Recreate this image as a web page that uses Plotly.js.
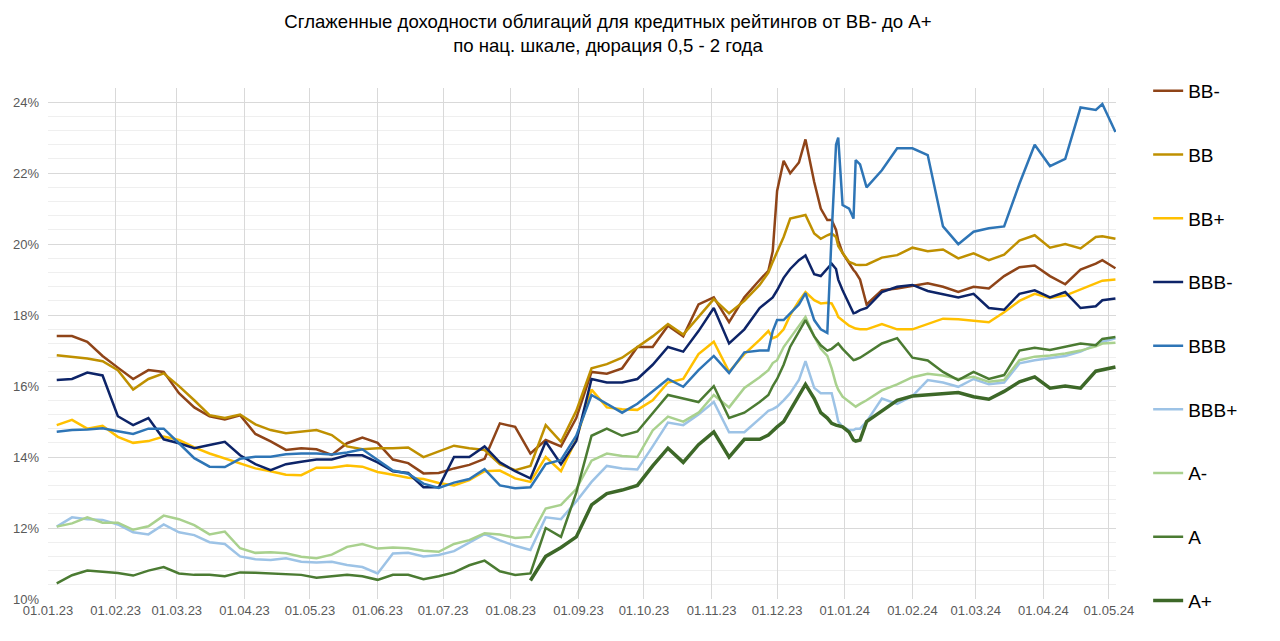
<!DOCTYPE html>
<html>
<head>
<meta charset="utf-8">
<script src="https://cdn.plot.ly/plotly-3.0.1.min.js"></script>
<style>html,body{margin:0;padding:0;background:#fff;}#chart{width:1280px;height:641px;}</style>
</head>
<body>
<div id="chart"></div>
<script>
const dates = ['2023-01-05','2023-01-12','2023-01-19','2023-01-26','2023-02-02','2023-02-09','2023-02-16','2023-02-23',
'2023-03-02','2023-03-09','2023-03-16','2023-03-23','2023-03-30','2023-04-06','2023-04-13','2023-04-20','2023-04-27',
'2023-05-04','2023-05-11','2023-05-18','2023-05-25','2023-06-01','2023-06-08','2023-06-15','2023-06-22','2023-06-29',
'2023-07-06','2023-07-13','2023-07-20','2023-07-27','2023-08-03','2023-08-10','2023-08-17','2023-08-24','2023-08-31',
'2023-09-07','2023-09-14','2023-09-21','2023-09-28','2023-10-05','2023-10-12','2023-10-19','2023-10-26','2023-11-02',
'2023-11-09','2023-11-16','2023-11-23','2023-11-27','2023-11-29','2023-12-01','2023-12-04','2023-12-07','2023-12-11',
'2023-12-14','2023-12-18','2023-12-21','2023-12-24','2023-12-26','2023-12-28','2023-12-29','2023-12-31','2024-01-03',
'2024-01-05','2024-01-06','2024-01-08','2024-01-11','2024-01-18','2024-01-25','2024-02-01','2024-02-08','2024-02-15',
'2024-02-22','2024-02-29','2024-03-07','2024-03-14','2024-03-21','2024-03-28','2024-04-04','2024-04-11','2024-04-18',
'2024-04-25','2024-04-28','2024-05-04'];

const seriesNames = ['BB-','BB','BB+','BBB-','BBB','BBB+','A-','A','A+'];

const bbMinus = [17.41,17.41,17.25,16.85,16.52,16.2,16.45,16.4,15.8,15.4,15.15,15.06,15.18,14.65,14.44,14.2,14.25,
14.22,14.06,14.39,14.55,14.4,13.93,13.83,13.54,13.55,13.68,13.78,13.95,14.95,14.85,14.1,14.48,14.3,15.1,
16.4,16.35,16.5,17.1,17.1,17.7,17.4,18.3,18.5,17.8,18.5,18.99,19.25,19.8,21.5,22.35,22.0,22.3,
22.95,21.75,21.0,20.68,20.68,20.4,20.1,19.75,19.45,19.27,19.2,19.0,18.3,18.7,18.75,18.82,18.9,18.8,
18.65,18.8,18.75,19.1,19.35,19.4,19.1,18.87,19.28,19.45,19.55,19.32];

const bb = [16.87,16.83,16.78,16.7,16.45,15.9,16.2,16.36,16.0,15.6,15.18,15.1,15.2,14.92,14.76,14.67,14.72,
14.76,14.62,14.3,14.22,14.25,14.25,14.27,14.0,14.15,14.32,14.25,14.2,13.8,13.63,13.75,14.9,14.43,15.3,
16.5,16.62,16.8,17.1,17.4,17.75,17.45,17.95,18.45,18.05,18.4,18.85,19.2,19.5,19.8,20.2,20.72,20.78,
20.82,20.3,20.15,20.25,20.3,20.2,19.95,19.75,19.5,19.45,19.42,19.41,19.42,19.62,19.69,19.9,19.8,19.85,
19.6,19.74,19.55,19.7,20.1,20.25,19.9,20.0,19.88,20.2,20.22,20.15];

const bbPlus = [14.9,15.05,14.8,14.88,14.57,14.4,14.45,14.58,14.48,14.27,14.1,13.96,13.8,13.68,13.6,13.5,13.49,
13.7,13.7,13.76,13.73,13.58,13.5,13.42,13.38,13.27,13.2,13.35,13.6,13.62,13.4,13.3,14.0,13.6,14.5,
15.9,15.4,15.35,15.33,15.6,16.1,16.2,16.9,17.25,16.4,16.9,17.3,17.55,17.35,17.4,17.6,18.0,18.4,
18.65,18.42,18.33,18.35,18.33,18.1,17.95,17.85,17.7,17.65,17.62,17.6,17.6,17.75,17.6,17.6,17.75,17.9,
17.88,17.85,17.8,18.08,18.4,18.6,18.48,18.55,18.72,18.88,18.97,19.0];

const bbbMinus = [16.17,16.2,16.38,16.3,15.15,14.9,15.1,14.5,14.39,14.25,14.34,14.43,14.05,13.8,13.63,13.8,13.87,
13.93,13.93,14.05,14.05,13.85,13.6,13.55,13.15,13.15,14.0,14.0,14.3,13.85,13.6,13.4,14.43,13.8,14.45,
16.2,16.1,16.1,16.2,16.6,17.1,16.97,17.55,18.2,17.2,17.6,18.2,18.4,18.5,18.7,19.05,19.3,19.55,
19.68,19.15,19.1,19.3,19.45,19.3,19.0,18.7,18.3,18.05,18.07,18.14,18.2,18.65,18.8,18.85,18.68,18.6,
18.5,18.6,18.2,18.15,18.6,18.7,18.5,18.65,18.2,18.25,18.42,18.47];

const bbb = [14.71,14.76,14.78,14.81,14.73,14.65,14.8,14.8,14.39,13.97,13.73,13.72,13.95,14.01,14.01,14.08,14.1,
14.1,14.07,14.13,14.22,13.93,13.62,13.53,13.25,13.13,13.28,13.38,13.66,13.2,13.12,13.15,13.8,13.92,14.6,
15.75,15.5,15.25,15.5,15.85,16.2,15.98,16.45,16.85,16.37,16.95,17.0,17.0,17.55,17.86,17.86,18.05,18.3,
18.62,17.86,17.6,17.5,20.3,22.8,23.0,21.1,21.0,20.72,22.37,22.25,21.6,22.08,22.7,22.7,22.51,20.5,
20.0,20.35,20.45,20.5,21.7,22.8,22.2,22.4,23.85,23.78,23.95,23.16];

const bbbPlus = [12.04,12.3,12.25,12.23,12.1,11.88,11.82,12.1,11.88,11.8,11.6,11.55,11.2,11.12,11.1,11.15,11.05,
11.03,11.05,10.96,10.9,10.72,11.28,11.3,11.2,11.24,11.35,11.6,11.83,11.65,11.5,11.38,12.3,12.25,12.75,
13.3,13.75,13.68,13.65,14.3,14.97,14.9,15.2,15.55,14.7,14.7,15.1,15.3,15.35,15.42,15.6,15.8,16.17,
16.7,15.95,15.8,15.8,15.8,15.3,15.0,14.85,14.76,14.76,14.8,14.8,15.0,15.65,15.5,15.72,16.17,16.1,
15.98,16.2,16.05,16.1,16.64,16.73,16.8,16.85,16.97,17.15,17.25,17.35];

const aMinus = [12.04,12.13,12.3,12.15,12.15,11.95,12.05,12.35,12.25,12.08,11.82,11.9,11.43,11.3,11.32,11.29,11.19,
11.15,11.25,11.47,11.55,11.42,11.45,11.43,11.36,11.33,11.55,11.66,11.85,11.82,11.72,11.75,12.55,12.65,13.1,
13.9,14.1,14.03,14.0,14.75,15.14,15.0,15.25,15.75,15.4,15.95,16.25,16.45,16.65,16.73,17.1,17.35,17.7,
17.95,17.4,17.05,16.85,16.5,16.05,15.9,15.7,15.55,15.45,15.42,15.5,15.6,15.88,16.05,16.25,16.35,16.3,
16.2,16.26,16.12,16.17,16.73,16.83,16.86,16.92,17.0,17.12,17.2,17.22];

const aMid = [10.44,10.67,10.8,10.77,10.73,10.66,10.8,10.9,10.72,10.68,10.68,10.64,10.75,10.74,10.72,10.72,10.68,
10.6,10.63,10.68,10.64,10.54,10.68,10.68,10.56,10.64,10.75,10.95,11.08,10.78,10.68,10.72,12.0,11.75,13.0,
14.6,14.8,14.6,14.72,15.25,15.75,15.65,15.55,16.0,15.1,15.25,15.55,15.75,16.0,16.2,16.6,17.11,17.55,
17.86,17.4,17.15,17.0,17.05,17.15,17.2,17.05,16.85,16.73,16.75,16.8,16.92,17.2,17.35,16.8,16.72,16.4,
16.17,16.4,16.2,16.31,17.0,17.08,17.02,17.1,17.2,17.15,17.33,17.38];

const aPlus = [null,null,null,null,null,null,null,null,null,null,null,null,null,null,null,null,null,
null,null,null,null,null,null,null,null,null,null,null,null,null,null,10.52,11.2,11.45,11.75,
12.65,12.97,13.07,13.2,13.75,14.25,13.85,14.35,14.71,14.0,14.5,14.5,14.62,14.75,14.85,15.0,15.32,15.75,
16.05,15.65,15.25,15.1,14.95,14.9,14.88,14.85,14.7,14.48,14.45,14.48,15.0,15.3,15.6,15.72,15.75,15.8,
15.82,15.7,15.63,15.85,16.12,16.26,15.94,16.0,15.94,16.42,16.46,16.54];

const seriesValues = [bbMinus, bb, bbPlus, bbbMinus, bbb, bbbPlus, aMinus, aMid, aPlus];
const seriesColors = ['#8f4418','#bf9000','#ffc000','#0d2468','#2e75b6','#9dc3e6','#a9d18e','#4b7b32','#3d6828'];
const seriesWidths = [2.5,2.5,2.5,2.5,2.5,2.5,2.5,2.5,3.5];

const traces = seriesNames.map((n, i) => ({
  type: 'scatter', mode: 'lines', name: n, x: dates, y: seriesValues[i],
  line: {color: seriesColors[i], width: seriesWidths[i]},
  legendgroup: 'g' + i, connectgaps: false, hoverinfo: 'skip'
}));

const tickFont = {family: 'Liberation Sans, Arial, sans-serif', size: 13, color: '#595959'};

const layout = {
  width: 1280, height: 641,
  paper_bgcolor: '#ffffff', plot_bgcolor: '#ffffff',
  margin: {l: 48, r: 164, t: 88, b: 42},
  title: {
    text: 'Сглаженные доходности облигаций для кредитных рейтингов от BB- до A+<br>по нац. шкале, дюрация 0,5 - 2 года',
    font: {family: 'Liberation Sans, Arial, sans-serif', size: 18.6, color: '#000000'},
    x: 0.475, xanchor: 'center', xref: 'container', y: 0.957, yref: 'container', yanchor: 'middle'
  },
  xaxis: {
    type: 'date', range: ['2023-01-01', '2024-05-04 06:00'],
    tickformat: '%d.%m.%y', dtick: 'M1', tick0: '2023-01-01',
    showgrid: true, gridcolor: '#d9d9d9', gridwidth: 1,
    zeroline: false, showline: false, ticks: '', tickfont: tickFont, ticklabelstandoff: 2,
    fixedrange: true
  },
  yaxis: {
    range: [10, 24.4], dtick: 2, tick0: 10, ticksuffix: '%',
    showgrid: true, gridcolor: '#d9d9d9', gridwidth: 1,
    minor: {dtick: 0.4, tick0: 10, showgrid: true, gridcolor: '#efefef', gridwidth: 1},
    zeroline: false, showline: false, ticks: '', tickfont: tickFont, ticklabelstandoff: 8,
    fixedrange: true
  },
  showlegend: true,
  legend: {
    x: 0.897, xref: 'container', xanchor: 'left',
    y: 1 - 72/641, yref: 'container', yanchor: 'top',
    font: {family: 'Liberation Sans, Arial, sans-serif', size: 19, color: '#000000'},
    tracegroupgap: 36, bgcolor: 'rgba(0,0,0,0)', borderwidth: 0, itemwidth: 30,
    maxheight: 600
  }
};

Plotly.newPlot('chart', traces, layout, {displayModeBar: false, staticPlot: true});
</script>
</body>
</html>
